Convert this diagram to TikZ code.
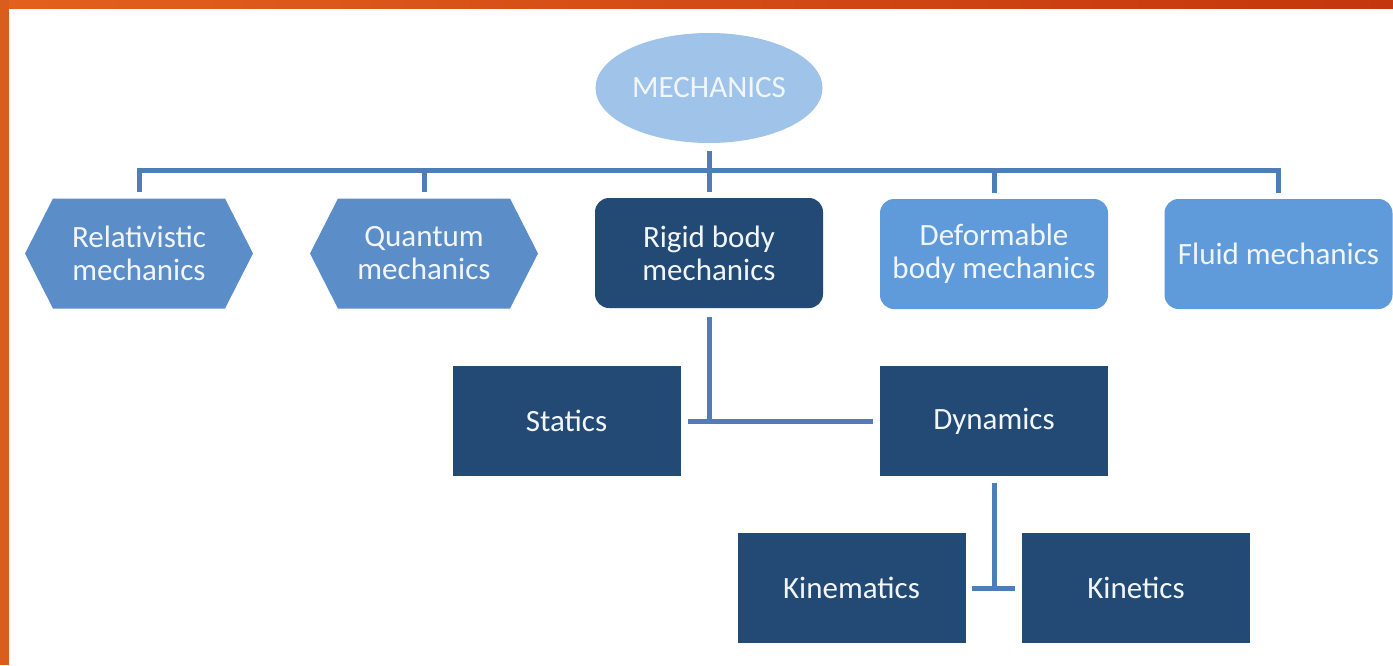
\documentclass[tikz,border=0pt]{standalone}
\usepackage{fontspec}
\setmainfont{Carlito}
\usetikzlibrary{calc,shapes.geometric}
\definecolor{darkbox}{HTML}{224A74}
\definecolor{hexcol}{HTML}{5B8DC9}
\definecolor{lightbox}{HTML}{5F9BDA}
\definecolor{ellcol}{HTML}{A0C3EA}
\definecolor{conncol}{HTML}{4E7DB8}
\definecolor{orangeL}{HTML}{E2611E}
\definecolor{orangeR}{HTML}{C4360C}
\definecolor{txt}{HTML}{F2F6FB}
\begin{document}
\begin{tikzpicture}[x=1pt,y=-1pt,
  base/.style={minimum width=228pt,minimum height=110pt,inner sep=0pt,text=txt,
    align=center,font=\fontsize{31}{33}\selectfont},
  hexbox/.style={base,fill=white,
    path picture={\fill[hexcol] (path picture bounding box.west)
      -- ([xshift=28pt]path picture bounding box.north west)
      -- ([xshift=-28pt]path picture bounding box.north east)
      -- (path picture bounding box.east)
      -- ([xshift=-28pt]path picture bounding box.south east)
      -- ([xshift=28pt]path picture bounding box.south west) -- cycle;}},
  darkround/.style={base,fill=darkbox,rounded corners=14pt},
  lightround/.style={base,fill=lightbox,rounded corners=14pt},
  darkrect/.style={base,fill=darkbox},
  ellnode/.style={base,ellipse,fill=ellcol,minimum width=227pt},
  conn/.style={draw=conncol,line width=5pt,line cap=butt,line join=miter}]
\useasboundingbox (0,0) rectangle (1393,665);
\fill[white] (0,0) rectangle (1393,665);
\shade[left color=orangeL,right color=orangeR] (0,0) rectangle (1393,8);
\fill[orangeL!96!black] (0,0) rectangle (9,665);

\node[ellnode] (mech) at (709,88) {MECHANICS};
\node[hexbox] (rel) at (139,253.5) {Relativistic\\mechanics};
\node[hexbox] (quant) at (424,253.5) {Quantum\\mechanics};
\node[darkround] (rigid) at (709,253) {Rigid body\\mechanics};
\node[lightround] (deform) at (994,254) {Deformable\\body mechanics};
\node[lightround] (fluid) at (1278.5,254) {Fluid mechanics};
\node[darkrect] (statics) at (566.5,421) {Statics};
\node[darkrect] (dyn) at (994,421) {Dynamics};
\node[darkrect] (kinem) at (851.5,588) {Kinematics};
\node[darkrect] (kinet) at (1136,588) {Kinetics};

\draw[conn] ([yshift=-8pt]mech.south) -- ([yshift=6pt]rigid.north);
\draw[conn] ([yshift=6pt]rel.north) -- ++(0,-22) -| ([yshift=6pt]fluid.north);
\draw[conn] ([yshift=6pt]quant.north) -- ++(0,-22);
\draw[conn] ([yshift=6pt]deform.north) -- ++(0,-22);

\draw[conn] ([yshift=-9pt]rigid.south) -- (rigid.south |- statics.east);
\draw[conn] ([xshift=7pt]statics.east) -- ([xshift=-7pt]dyn.west);
\draw[conn] ([yshift=-7pt]dyn.south) -- (dyn.south |- kinem.east);
\draw[conn] ([xshift=6pt]kinem.east) -- ([xshift=-7pt]kinet.west);
\end{tikzpicture}
\end{document}
